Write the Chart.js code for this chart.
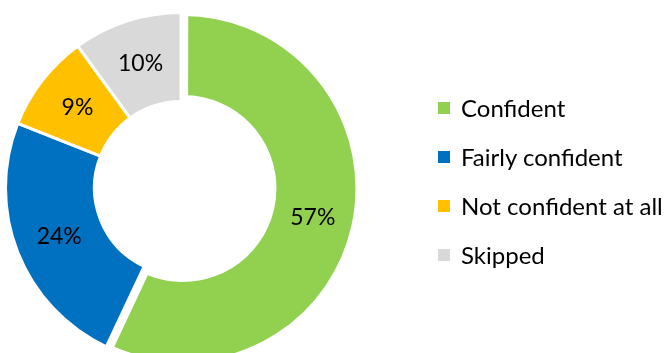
<!DOCTYPE html>
<html>
<head>
<meta charset="utf-8">
<script src="https://cdn.jsdelivr.net/npm/chart.js@4.4.1/dist/chart.umd.min.js"></script>
<style>
  html, body { margin: 0; padding: 0; background: #fff; }
  #wrap { position: relative; width: 670px; height: 353px; }
  #legend { position: absolute; left: 438px; top: 83px; font-family: Lato, sans-serif; font-size: 24px; color: #000; }
  #legend .item { height: 49px; display: flex; align-items: center; white-space: nowrap; }
  #legend .box { width: 12px; height: 12px; margin-right: 11px; flex: none; }
</style>
</head>
<body>
<div id="wrap">
  <canvas id="confidencePie" width="670" height="353"></canvas>
  <div id="legend"></div>
</div>
<script>
const labels = ['Confident', 'Fairly confident', 'Not confident at all', 'Skipped'];
const shares = [57, 24, 9, 10];
const colors = ['#92D050', '#0070C0', '#FFC000', '#D9D9D9'];

// percentage text in the middle of each ring segment
const sliceLabels = {
    id: 'sliceLabels',
    afterDatasetsDraw(chart) {
        const ctx = chart.ctx;
        const meta = chart.getDatasetMeta(0);
        ctx.save();
        ctx.font = '23px Lato';
        ctx.fillStyle = '#000';
        ctx.textAlign = 'center';
        ctx.textBaseline = 'middle';
        meta.data.forEach((arc, i) => {
            const p = arc.tooltipPosition();
            ctx.fillText(chart.data.datasets[0].data[i] + '%', p.x, p.y);
        });
        ctx.restore();
    }
};

// legend as html next to the canvas
const htmlLegend = {
    id: 'htmlLegend',
    afterUpdate(chart) {
        const box = document.getElementById('legend');
        box.innerHTML = '';
        const items = chart.options.plugins.legend.labels.generateLabels(chart);
        items.forEach(item => {
            const row = document.createElement('div');
            row.className = 'item';
            const sq = document.createElement('span');
            sq.className = 'box';
            sq.style.background = item.fillStyle;
            const txt = document.createElement('span');
            txt.textContent = item.text;
            row.appendChild(sq);
            row.appendChild(txt);
            box.appendChild(row);
        });
    }
};

const ctxPie = document.getElementById('confidencePie');
const confidencePie = new Chart(ctxPie, {
    type: 'doughnut',
    data: {
        labels: labels,
        datasets: [{
            data: shares,
            backgroundColor: colors,
            borderColor: '#ffffff',
            borderWidth: [10, 3, 3, 3],
            offset: [8, 0, 0, 0],
            clip: false
        }]
    },
    options: {
        responsive: false,
        animation: false,
        events: [],
        radius: 175.5,
        cutout: '49.3%',
        layout: {
            padding: { top: 23, right: 308, bottom: 0, left: 0 }
        },
        plugins: {
            legend: { display: false },
            tooltip: { enabled: false }
        }
    },
    plugins: [sliceLabels, htmlLegend]
});
</script>
</body>
</html>
